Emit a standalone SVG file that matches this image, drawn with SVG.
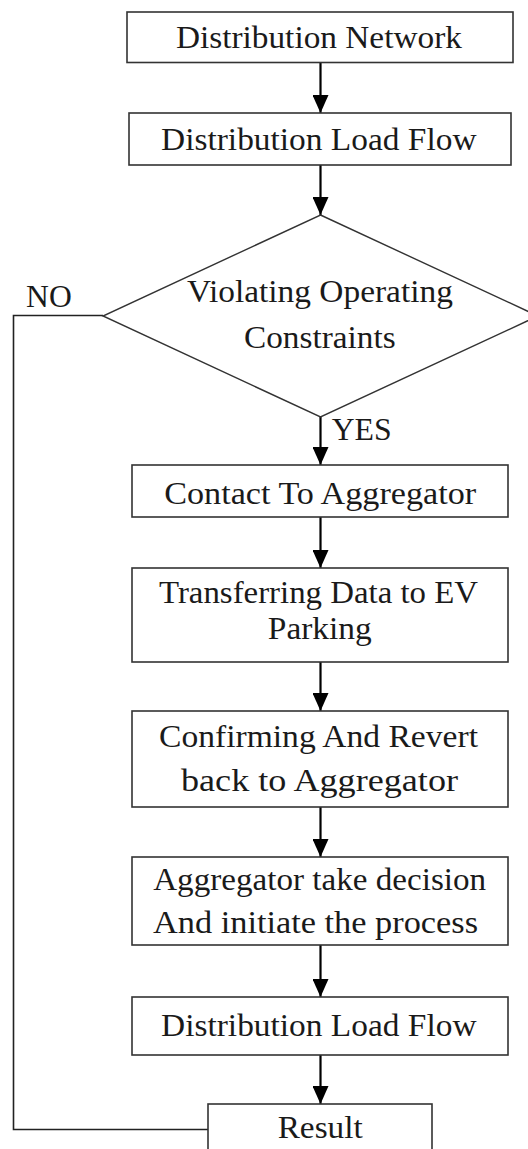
<svg xmlns="http://www.w3.org/2000/svg" width="528" height="1149" viewBox="0 0 528 1149">
<style>
.box{fill:#fff;stroke:#333;stroke-width:1.6}
.dia{fill:#fff;stroke:#333;stroke-width:1.4}
.t{font-family:"Liberation Serif","Times New Roman",serif;font-size:31px;fill:#1a1a1a;text-anchor:middle}
.lab{font-family:"Liberation Serif","Times New Roman",serif;font-size:31px;fill:#1a1a1a}
.arr{stroke:#000;stroke-width:2.2;fill:none;marker-end:url(#ah)}
.fb{stroke:#222;stroke-width:1.6;fill:none}
</style>
<defs>
<marker id="ah" viewBox="0 0 18 16" refX="18" refY="8" markerWidth="18" markerHeight="16" markerUnits="userSpaceOnUse" orient="auto">
<path d="M0,0 L18,8 L0,16 z" fill="#000"/>
</marker>
</defs>
<g id="connectors">
<line class="arr" x1="320.5" y1="62.5" x2="320.5" y2="113"/>
<line class="arr" x1="320.5" y1="165" x2="320.5" y2="215"/>
<line class="arr" x1="320.5" y1="417" x2="320.5" y2="465"/>
<line class="arr" x1="320.5" y1="517" x2="320.5" y2="568"/>
<line class="arr" x1="320.5" y1="662" x2="320.5" y2="711"/>
<line class="arr" x1="320.5" y1="807" x2="320.5" y2="857"/>
<line class="arr" x1="320.5" y1="945" x2="320.5" y2="997"/>
<line class="arr" x1="320.5" y1="1055" x2="320.5" y2="1104"/>
<polyline class="fb" points="103,315.5 13.5,315.5 13.5,1129.5 208,1129.5"/>
<text class="lab" x="48.9" y="307" text-anchor="middle" textLength="45.7" lengthAdjust="spacingAndGlyphs">NO</text>
<text class="lab" x="331.7" y="439.5" textLength="60" lengthAdjust="spacingAndGlyphs">YES</text>
</g>
<g id="n1">
<rect class="box" x="127" y="12" width="386" height="50.5"/>
<text class="t" x="318.9" y="48" textLength="286" lengthAdjust="spacingAndGlyphs">Distribution Network</text>
</g>
<g id="n2">
<rect class="box" x="129" y="113" width="382" height="52"/>
<text class="t" x="318.8" y="150" textLength="315.5" lengthAdjust="spacingAndGlyphs">Distribution Load Flow</text>
</g>
<g id="n3">
<polygon class="dia" points="320.5,215 538,316 320.5,417 103,316"/>
<text class="t" x="319.9" y="302" textLength="266" lengthAdjust="spacingAndGlyphs">Violating Operating</text>
<text class="t" x="319.8" y="348" textLength="151.6" lengthAdjust="spacingAndGlyphs">Constraints</text>
</g>
<g id="n4">
<rect class="box" x="132" y="465" width="376" height="52"/>
<text class="t" x="320.2" y="504" textLength="312" lengthAdjust="spacingAndGlyphs">Contact To Aggregator</text>
</g>
<g id="n5">
<rect class="box" x="132" y="568" width="376" height="94"/>
<text class="t" x="318.5" y="603" textLength="319" lengthAdjust="spacingAndGlyphs">Transferring Data to EV</text>
<text class="t" x="319.8" y="638.5" textLength="104" lengthAdjust="spacingAndGlyphs">Parking</text>
</g>
<g id="n6">
<rect class="box" x="132" y="711" width="376" height="96"/>
<text class="t" x="318.5" y="747" textLength="319" lengthAdjust="spacingAndGlyphs">Confirming And Revert</text>
<text class="t" x="319.5" y="791" textLength="277" lengthAdjust="spacingAndGlyphs">back to Aggregator</text>
</g>
<g id="n7">
<rect class="box" x="132" y="857" width="376" height="88"/>
<text class="t" x="319.7" y="890" textLength="333" lengthAdjust="spacingAndGlyphs">Aggregator take decision</text>
<text class="t" x="315.5" y="932.5" textLength="325" lengthAdjust="spacingAndGlyphs">And initiate the process</text>
</g>
<g id="n8">
<rect class="box" x="132" y="997" width="376" height="58"/>
<text class="t" x="318.8" y="1036" textLength="315.5" lengthAdjust="spacingAndGlyphs">Distribution Load Flow</text>
</g>
<g id="n9">
<rect class="box" x="208" y="1104" width="224" height="60"/>
<text class="t" x="320.2" y="1138" textLength="85" lengthAdjust="spacingAndGlyphs">Result</text>
</g>
</svg>
